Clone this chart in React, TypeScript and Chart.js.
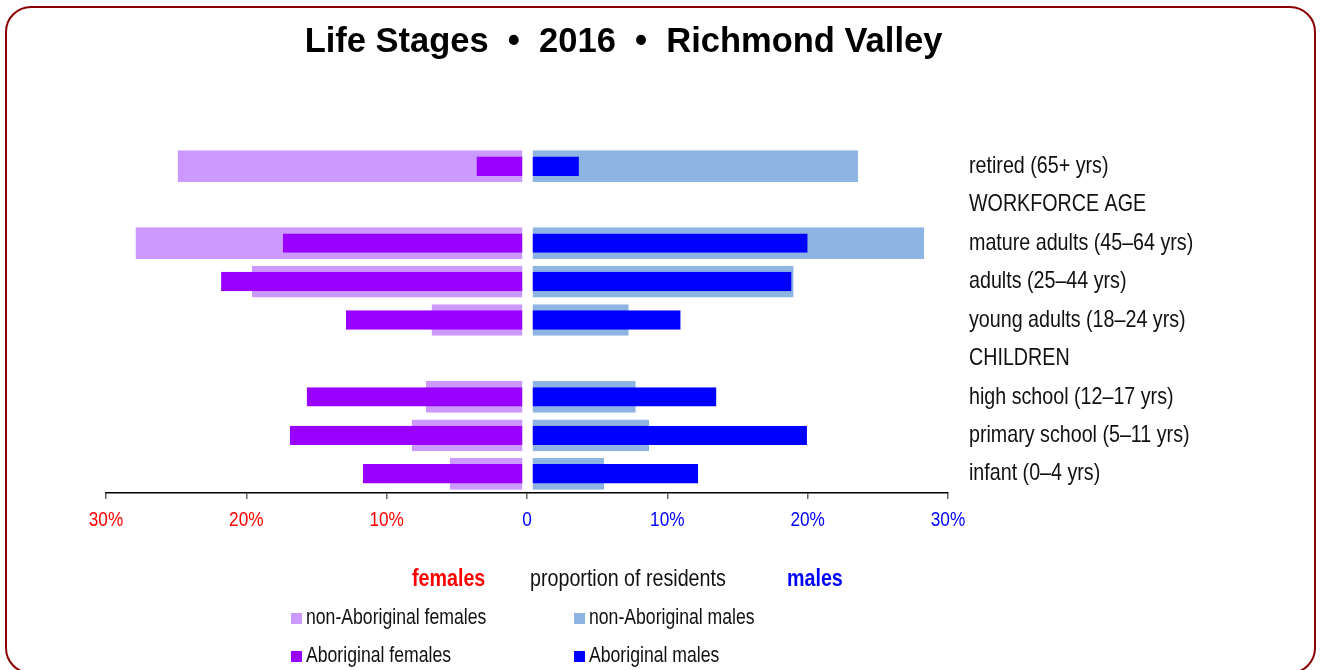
import React, { useEffect, useRef } from "react";
import { Chart, registerables } from "chart.js";

Chart.register(...registerables);

const categories = [
  "retired (65+ yrs)",
  "WORKFORCE AGE",
  "mature adults (45–64 yrs)",
  "adults (25–44 yrs)",
  "young adults (18–24 yrs)",
  "CHILDREN",
  "high school (12–17 yrs)",
  "primary school (5–11 yrs)",
  "infant (0–4 yrs)",
];

const nonAboriginalFemales = [24.9, null, 27.9, 19.6, 6.8, null, 7.2, 8.2, 5.5];
const aboriginalFemales = [3.6, null, 17.4, 21.8, 12.9, null, 15.7, 16.9, 11.7];
const nonAboriginalMales = [23.6, null, 28.3, 19.0, 7.25, null, 7.75, 8.7, 5.5];
const aboriginalMales = [3.7, null, 20.0, 18.85, 10.95, null, 13.5, 19.95, 12.2];

const xTickValues = [-30, -20, -10, 0, 10, 20, 30];
const xTickLabels = ["30%", "20%", "10%", "0", "10%", "20%", "30%"];

const SANS = "'Liberation Sans', Arial, sans-serif";
const NARROW_SCALE = 0.82; // emulate a narrow (Arial Narrow-like) face

const C_NA_F = "#cc99ff";
const C_AB_F = "#9900ff";
const C_NA_M = "#8db4e2";
const C_AB_M = "#0000ff";

const neg = (arr: (number | null)[]) => arr.map((v) => (v == null ? null : -v));

export default function App() {
  const canvasRef = useRef<HTMLCanvasElement | null>(null);

  useEffect(() => {
    const canvas = canvasRef.current;
    if (!canvas) return;
    const ctx = canvas.getContext("2d") as CanvasRenderingContext2D;
    const origFill = ctx.fillText;
    (ctx as any).fillText = function (text: string, x: number, y: number, maxWidth?: number) {
      this.save();
      this.translate(x, y);
      this.scale(NARROW_SCALE, 1);
      if (maxWidth === undefined || maxWidth === null) origFill.call(this, text, 0, 0);
      else origFill.call(this, text, 0, 0, maxWidth / NARROW_SCALE);
      this.restore();
    };

    const femaleBorder = { top: 0, bottom: 0, left: 0, right: 4 };
    const maleBorder = { top: 0, bottom: 0, left: 5, right: 0 };
    const common = {
      borderColor: "#ffffff",
      borderSkipped: false,
      categoryPercentage: 1,
      grouped: false,
    };
    const chart = new Chart(ctx, {
      type: "bar",
      data: {
        labels: categories,
        datasets: [
          {
            ...common,
            label: "Aboriginal females",
            data: neg(aboriginalFemales),
            backgroundColor: C_AB_F,
            borderWidth: femaleBorder,
            barPercentage: 0.505,
            order: 0,
          },
          {
            ...common,
            label: "Aboriginal males",
            data: aboriginalMales,
            backgroundColor: C_AB_M,
            borderWidth: maleBorder,
            barPercentage: 0.505,
            order: 0,
          },
          {
            ...common,
            label: "non-Aboriginal females",
            data: neg(nonAboriginalFemales),
            backgroundColor: C_NA_F,
            borderWidth: femaleBorder,
            barPercentage: 0.825,
            order: 1,
          },
          {
            ...common,
            label: "non-Aboriginal males",
            data: nonAboriginalMales,
            backgroundColor: C_NA_M,
            borderWidth: maleBorder,
            barPercentage: 0.825,
            order: 1,
          },
        ] as any,
      },
      options: {
        indexAxis: "y",
        responsive: false,
        animation: false,
        layout: { padding: { left: 106, right: 1320 - 948 - 300, top: 147, bottom: 670 - 493 - 50 } },
        plugins: {
          legend: { display: false },
          title: { display: false },
          tooltip: { enabled: false },
        },
        scales: {
          x: {
            type: "linear",
            min: -30,
            max: 30,
            afterBuildTicks: (scale: any) => {
              scale.ticks = xTickValues.map((v) => ({ value: v }));
            },
            afterFit: (scale: any) => {
              scale.height = 50;
            },
            grid: { drawOnChartArea: false, drawTicks: true, tickLength: 6, color: "#666666", lineWidth: 1.5 },
            border: { display: true, color: "#000000", width: 1.5 },
            ticks: {
              autoSkip: false,
              maxRotation: 0,
              padding: 9,
              font: { family: SANS, size: 21 },
              color: (c: any) => (c.tick && c.tick.value < 0 ? "#ff0000" : "#0000ff"),
              callback: (value: any) => {
                const i = xTickValues.indexOf(Number(value));
                return i >= 0 ? xTickLabels[i] : "";
              },
            },
          },
          y: {
            type: "category",
            position: "right",
            grid: { display: false, drawTicks: false },
            border: { display: false },
            afterFit: (scale: any) => {
              scale.width = 300;
            },
            ticks: {
              autoSkip: false,
              padding: 21,
              font: { family: SANS, size: 24 },
              color: "#111111",
            },
          },
        },
      } as any,
    });
    return () => {
      chart.destroy();
      (ctx as any).fillText = origFill;
    };
  }, []);

  const narrowText: React.CSSProperties = {
    position: "absolute",
    fontFamily: SANS,
    fontSize: 21.5,
    lineHeight: "21px",
    color: "#111",
    whiteSpace: "nowrap",
    transform: `scaleX(${NARROW_SCALE})`,
    transformOrigin: "0 50%",
  };
  const sq = (color: string, left: number, top: number) => (
    <div style={{ position: "absolute", left, top, width: 11, height: 11, background: color }} />
  );

  return (
    <div style={{ position: "fixed", left: 0, top: 0, width: 1320, height: 670, overflow: "hidden", background: "#fff" }}>
      <div
        style={{
          position: "absolute",
          left: 5,
          top: 6,
          width: 1311,
          height: 668,
          border: "2px solid #8b0000",
          borderRadius: 26,
          boxSizing: "border-box",
        }}
      />
      <canvas ref={canvasRef} width={1320} height={670} style={{ position: "absolute", left: 0, top: 0 }} />
      <div
        style={{
          position: "absolute",
          left: 0,
          top: 23,
          width: 1247,
          textAlign: "center",
          fontFamily: SANS,
          fontWeight: "bold",
          fontSize: 34.5,
          lineHeight: "35px",
          color: "#000",
          whiteSpace: "pre",
        }}
      >
        {"Life Stages  •  2016  •  Richmond Valley"}
      </div>
      <div style={{ ...narrowText, fontSize: 24, lineHeight: "24px", left: 412, top: 566, color: "#ff0000", fontWeight: "bold" }}>females</div>
      <div style={{ ...narrowText, fontSize: 24, lineHeight: "24px", left: 530, top: 566 }}>proportion of residents</div>
      <div style={{ ...narrowText, fontSize: 24, lineHeight: "24px", left: 787, top: 566, color: "#0000ff", fontWeight: "bold" }}>males</div>

      {sq(C_NA_F, 291, 613)}
      <div style={{ ...narrowText, left: 306, top: 607 }}>non-Aboriginal females</div>
      {sq(C_NA_M, 574, 613)}
      <div style={{ ...narrowText, left: 589, top: 607 }}>non-Aboriginal males</div>
      {sq(C_AB_F, 291, 651)}
      <div style={{ ...narrowText, left: 306, top: 645 }}>Aboriginal females</div>
      {sq(C_AB_M, 574, 651)}
      <div style={{ ...narrowText, left: 589, top: 645 }}>Aboriginal males</div>
    </div>
  );
}
